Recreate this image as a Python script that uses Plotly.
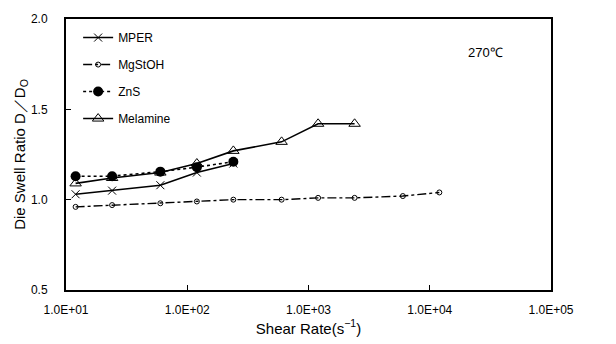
import plotly.graph_objects as go

shear_mper = [12, 24, 60, 120, 240]
mper = [1.03, 1.05, 1.08, 1.15, 1.20]
shear_mg = [12, 24, 60, 120, 240, 600, 1200, 2400, 6000, 12000]
mgstoh = [0.96, 0.97, 0.98, 0.99, 1.00, 1.00, 1.01, 1.01, 1.02, 1.04]
shear_zns = [12, 24, 60, 120, 240]
zns = [1.13, 1.13, 1.155, 1.18, 1.21]
shear_mel = [12, 24, 60, 120, 240, 600, 1200, 2400]
melamine = [1.09, 1.12, 1.15, 1.20, 1.27, 1.32, 1.42, 1.42]

x_ticks = [10, 100, 1000, 10000, 100000]
x_tick_labels = ["1.0E+01", "1.0E+02", "1.0E+03", "1.0E+04", "1.0E+05"]
y_ticks = [0.5, 1.0, 1.5, 2.0]
y_tick_labels = ["0.5", "1.0", "1.5", "2.0"]

FONT = "Liberation Sans"
fig = go.Figure()
fig.add_trace(go.Scatter(x=shear_mper, y=mper, name="MPER", mode="lines+markers",
                         legendgroup="a",
                         line=dict(color="black", width=1.6),
                         marker=dict(symbol="x-thin-open", size=8, color="black",
                                     line=dict(color="black", width=1))))
fig.add_trace(go.Scatter(x=shear_mg, y=mgstoh, name="MgStOH", mode="lines+markers",
                         legendgroup="b",
                         line=dict(color="black", width=1.4, dash="dashdot"),
                         marker=dict(symbol="circle-open", size=5, color="black",
                                     line=dict(color="black", width=1))))
fig.add_trace(go.Scatter(x=shear_zns, y=zns, name="ZnS", mode="lines+markers",
                         legendgroup="c",
                         line=dict(color="black", width=1.6, dash="dot"),
                         marker=dict(symbol="circle", size=10, color="black")))
fig.add_trace(go.Scatter(x=shear_mel, y=melamine, name="Melamine", mode="lines+markers",
                         legendgroup="d",
                         line=dict(color="black", width=1.6),
                         marker=dict(symbol="triangle-up-open", size=10, color="black",
                                     line=dict(color="black", width=1))))

fig.add_annotation(x=0.864, y=0.875, xref="paper", yref="paper", text="270℃",
                   showarrow=False, xanchor="center", yanchor="middle",
                   font=dict(family=FONT, size=13, color="black"))

fig.update_layout(
    width=616, height=344,
    margin=dict(l=66, r=65, t=14, b=51),
    paper_bgcolor="white", plot_bgcolor="white",
    font=dict(family=FONT, size=12, color="black"),
    showlegend=True,
    legend=dict(x=0.025, y=0.985, xanchor="left", yanchor="top",
                bgcolor="rgba(0,0,0,0)", tracegroupgap=8,
                font=dict(family=FONT, size=12, color="black")),
    xaxis=dict(type="log", range=[1, 5], tickvals=x_ticks, ticktext=x_tick_labels,
               ticks="inside", ticklen=5, tickcolor="black", showgrid=False,
               ticklabelstandoff=8,
               zeroline=False, showline=True, linecolor="black", linewidth=2, mirror=True,
               title=dict(text="Shear Rate(s<sup>−1</sup>)", standoff=4,
                          font=dict(family=FONT, size=15, color="black"))),
    yaxis=dict(range=[0.5, 2.0], tickvals=y_ticks, ticktext=y_tick_labels,
               ticks="inside", ticklen=5, tickcolor="black", showgrid=False,
               ticklabelstandoff=14,
               zeroline=False, showline=True, linecolor="black", linewidth=2, mirror=True,
               title=dict(text="Die Swell Ratio D／D<sub>O</sub>", standoff=2,
                          font=dict(family=FONT, size=15, color="black"))),
)

fig.write_html("out.html")
